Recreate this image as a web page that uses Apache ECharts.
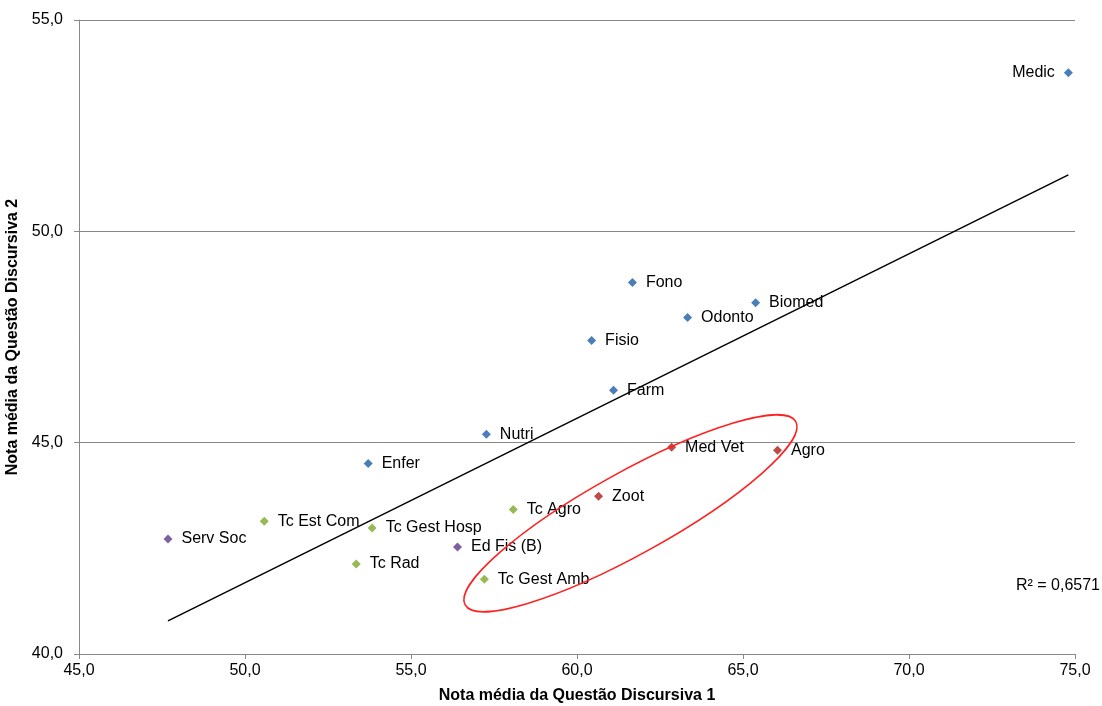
<!DOCTYPE html>
<html><head><meta charset="utf-8">
<script src="https://cdn.jsdelivr.net/npm/echarts@6/dist/echarts.min.js"></script>
<style>html,body{margin:0;padding:0;background:#fff}#c{width:1102px;height:706px}</style>
</head><body><div id="c"></div>
<script>
// Blue group (saúde)
const blueNames = ['Medic','Fono','Biomed','Odonto','Fisio','Farm','Nutri','Enfer'];
const blueX = [74.8, 61.67, 65.38, 63.33, 60.44, 61.1, 57.27, 53.71];
const blueY = [53.75, 48.79, 48.31, 47.96, 47.42, 46.24, 45.2, 44.51];
// Red group (agrárias)
const redNames = ['Med Vet','Agro','Zoot'];
const redX = [62.85, 66.04, 60.65];
const redY = [44.89, 44.82, 43.73];
// Green group (tecnólogos)
const greenNames = ['Tc Agro','Tc Est Com','Tc Gest Hosp','Tc Rad','Tc Gest Amb'];
const greenX = [58.08, 50.58, 53.83, 53.35, 57.21];
const greenY = [43.42, 43.14, 42.98, 42.13, 41.77];
// Purple group
const purpleNames = ['Serv Soc','Ed Fis (B)'];
const purpleX = [47.68, 56.4];
const purpleY = [42.72, 42.53];

const xAxisTitle = 'Nota média da Questão Discursiva 1';
const yAxisTitle = 'Nota média da Questão Discursiva 2';
const r2Text = 'R² = 0,6571';
const ellipseCenter = [61.61, 43.33];

const FONT = "'Liberation Sans', Arial, sans-serif";

function pts(names, xs, ys) {
  return names.map((n, i) => ({ name: n, value: [xs[i], ys[i]] }));
}
const allX = [].concat(blueX, redX, greenX, purpleX);
const allY = [].concat(blueY, redY, greenY, purpleY);
const n = allX.length;
const mx = allX.reduce((a, b) => a + b, 0) / n;
const my = allY.reduce((a, b) => a + b, 0) / n;
let sxy = 0, sxx = 0;
for (let i = 0; i < n; i++) { sxy += (allX[i] - mx) * (allY[i] - my); sxx += (allX[i] - mx) ** 2; }
const slope = sxy / sxx, icpt = my - slope * mx;
const xmin = Math.min(...allX), xmax = Math.max(...allX);
const trend = [[xmin, icpt + slope * xmin], [xmax, icpt + slope * xmax]];

function scatter(name, data, color) {
  return {
    name, type: 'scatter', symbol: 'diamond', symbolSize: 9, data,
    itemStyle: { color, opacity: 1 },
    label: {
      show: true, position: 'right', distance: 9, formatter: p => p.name,
      color: '#000', fontFamily: FONT, fontSize: 16
    },
    labelLayout: { hideOverlap: false },
    z: 3
  };
}

const chart = echarts.init(document.getElementById('c'));
const blueData = pts(blueNames, blueX, blueY);
blueData[0].label = { position: 'left' };

chart.setOption({
  animation: false,
  backgroundColor: '#fff',
  grid: { left: 79, right: 27, top: 20, bottom: 52, containLabel: false, outerBoundsMode: 'none' },
  xAxis: {
    type: 'value', min: 45, max: 75, interval: 5,
    name: xAxisTitle, nameLocation: 'middle', nameGap: 34,
    nameTextStyle: { fontFamily: FONT, fontSize: 16, fontWeight: 'bold', color: '#000' },
    axisLine: { show: true, onZero: false, lineStyle: { color: '#888', width: 1 } },
    axisTick: { show: true, length: 5, lineStyle: { color: '#888' } },
    axisLabel: { fontFamily: FONT, fontSize: 16, color: '#000', margin: 9,
      formatter: v => v.toFixed(1).replace('.', ',') },
    splitLine: { show: false }
  },
  yAxis: {
    type: 'value', min: 40, max: 55, interval: 5,
    name: yAxisTitle, nameLocation: 'middle', nameGap: 51,
    nameTextStyle: { fontFamily: FONT, fontSize: 16, fontWeight: 'bold', color: '#000' },
    axisLine: { show: true, onZero: false, lineStyle: { color: '#888', width: 1 } },
    axisTick: { show: true, length: 5, lineStyle: { color: '#888' } },
    axisLabel: { fontFamily: FONT, fontSize: 16, color: '#000', margin: 16,
      formatter: v => v.toFixed(1).replace('.', ',') },
    splitLine: { show: true, lineStyle: { color: '#888', width: 1 } }
  },
  series: [
    {
      name: 'trend', type: 'line', data: trend, symbol: 'none',
      lineStyle: { color: '#000', width: 1.5 }, z: 2, silent: true
    },
    scatter('blue', blueData, '#4A7EBB'),
    scatter('red', pts(redNames, redX, redY), '#BE4B48'),
    scatter('green', pts(greenNames, greenX, greenY), '#98B954'),
    scatter('purple', pts(purpleNames, purpleX, purpleY), '#7D60A0')
  ]
});

const c = chart.convertToPixel({ gridIndex: 0 }, ellipseCenter);
chart.setOption({
  graphic: [
    {
      type: 'ellipse', x: c[0], y: c[1], rotation: 29 * Math.PI / 180,
      shape: { cx: 0, cy: 0, rx: 189, ry: 41 },
      style: { fill: 'none', stroke: '#FF2020', lineWidth: 1.6 }, z: 10
    },
    {
      type: 'text', right: 2, top: 578,
      style: { text: r2Text, fontFamily: FONT, fontSize: 16, fill: '#000' }
    }
  ]
});
</script></body></html>
